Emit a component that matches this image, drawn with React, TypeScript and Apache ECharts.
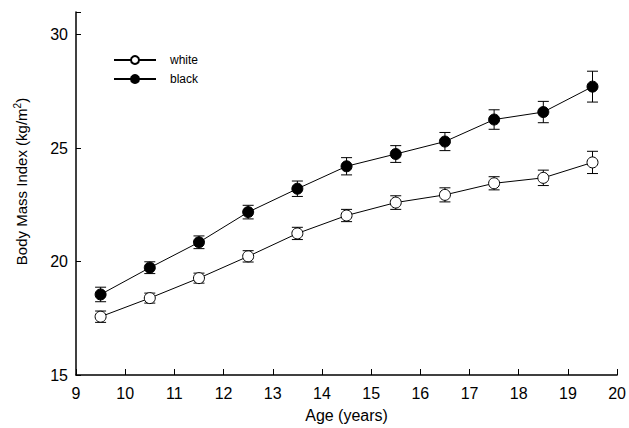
import React, { useEffect, useRef } from "react";
import * as echarts from "echarts";

const ages = [9.5, 10.5, 11.5, 12.5, 13.5, 14.5, 15.5, 16.5, 17.5, 18.5, 19.5];
const whiteBMI = [17.57, 18.39, 19.27, 20.23, 21.24, 22.03, 22.6, 22.94, 23.45, 23.69, 24.37];
const whiteErr = [0.25, 0.22, 0.22, 0.25, 0.27, 0.27, 0.3, 0.31, 0.29, 0.34, 0.49];
const blackBMI = [18.55, 19.73, 20.85, 22.18, 23.21, 24.2, 24.74, 25.29, 26.26, 26.59, 27.71];
const blackErr = [0.32, 0.26, 0.28, 0.3, 0.34, 0.38, 0.37, 0.4, 0.43, 0.47, 0.68];

const FONT = "'Liberation Sans', Arial, sans-serif";

function errData(vals: number[], errs: number[]) {
  return ages.map((a, i) => [a, vals[i] - errs[i], vals[i] + errs[i]]);
}

function renderErr(params: any, api: any) {
  const x = api.value(0);
  const lo = api.coord([x, api.value(1)]);
  const hi = api.coord([x, api.value(2)]);
  const hw = 5.5;
  const style = { stroke: "#000", lineWidth: 1 };
  return {
    type: "group",
    children: [
      { type: "line", shape: { x1: lo[0], y1: lo[1], x2: hi[0], y2: hi[1] }, style },
      { type: "line", shape: { x1: lo[0] - hw, y1: lo[1], x2: lo[0] + hw, y2: lo[1] }, style },
      { type: "line", shape: { x1: hi[0] - hw, y1: hi[1], x2: hi[0] + hw, y2: hi[1] }, style },
    ],
  };
}

export default function App() {
  const ref = useRef<HTMLDivElement>(null);
  useEffect(() => {
    const chart = echarts.init(ref.current!, null, { renderer: "svg" });
    chart.setOption({
      animation: false,
      backgroundColor: "#fff",
      grid: { left: 76, right: 11, top: 12, bottom: 46 },
      legend: {
        data: ["white", "black"],
        orient: "vertical",
        left: 108,
        top: 49,
        itemWidth: 42,
        itemHeight: 10,
        itemGap: 7,
        textStyle: { fontFamily: FONT, fontSize: 12, color: "#000", padding: [0, 0, 0, 9] },
      },
      xAxis: {
        type: "value",
        min: 9,
        max: 20,
        interval: 1,
        name: "Age (years)",
        nameLocation: "middle",
        nameGap: 32,
        nameTextStyle: { fontFamily: FONT, fontSize: 16, color: "#000" },
        axisLine: { lineStyle: { color: "#000", width: 1.5 } },
        axisTick: { inside: true, length: 6, lineStyle: { color: "#000" } },
        axisLabel: { fontFamily: FONT, fontSize: 16, color: "#000", margin: 10 },
        splitLine: { show: false },
      },
      yAxis: {
        type: "value",
        min: 15,
        max: 31,
        interval: 5,
        name: "Body Mass Index (kg/m{sup|2})",
        nameLocation: "middle",
        nameGap: 46,
        nameTextStyle: {
          fontFamily: FONT,
          fontSize: 15,
          color: "#000",
          padding: [0, 0, 0, 24],
          rich: {
            sup: { fontFamily: FONT, fontSize: 10, color: "#000", verticalAlign: "bottom", padding: [0, 0, 8, 0] },
          },
        },
        axisLine: { show: true, lineStyle: { color: "#000", width: 1.5 } },
        axisTick: { show: true, inside: true, length: 5, lineStyle: { color: "#000" } },
        axisLabel: {
          fontFamily: FONT,
          fontSize: 16,
          color: "#000",
          margin: 8,
          formatter: (v: number) => (v % 5 === 0 ? String(v) : ""),
        },
        splitLine: { show: false },
      },
      series: [
        {
          type: "custom",
          name: "whiteErr",
          renderItem: renderErr,
          data: errData(whiteBMI, whiteErr),
          encode: { x: 0, y: [1, 2] },
          z: 1,
        },
        {
          type: "custom",
          name: "blackErr",
          renderItem: renderErr,
          data: errData(blackBMI, blackErr),
          encode: { x: 0, y: [1, 2] },
          z: 1,
        },
        {
          type: "line",
          name: "white",
          data: ages.map((a, i) => [a, whiteBMI[i]]),
          symbol: "circle",
          symbolSize: 11,
          lineStyle: { color: "#000", width: 1 },
          itemStyle: { color: "#fff", borderColor: "#000", borderWidth: 1 },
          z: 3,
        },
        {
          type: "line",
          name: "black",
          data: ages.map((a, i) => [a, blackBMI[i]]),
          symbol: "circle",
          symbolSize: 11,
          lineStyle: { color: "#000", width: 1 },
          itemStyle: { color: "#000", borderColor: "#000", borderWidth: 1 },
          z: 3,
        },
      ],
    });
    return () => chart.dispose();
  }, []);
  return <div ref={ref} style={{ width: 629, height: 428, position: "absolute", left: 0, top: 0 }} />;
}
